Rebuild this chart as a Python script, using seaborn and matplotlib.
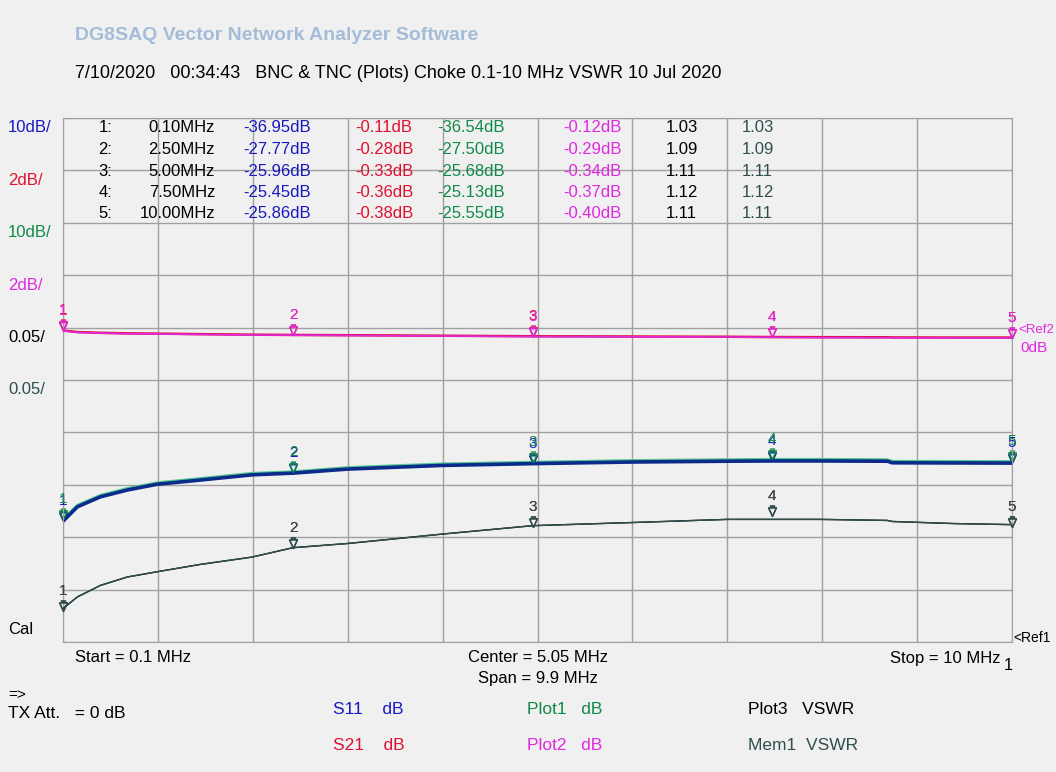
import numpy as np
import matplotlib
matplotlib.use('Agg')
import matplotlib.pyplot as plt
from matplotlib.path import Path
import seaborn as sns

W, H = 1056, 772

# sweep points (MHz) and the trace values there
freq_mhz = [0.1, 0.25, 0.49, 0.77, 1.08, 1.53, 2.07, 2.5, 3.07, 4.06,
            5.0, 6.04, 7.03, 7.5, 8.0, 8.7, 8.75, 9.4, 10.0]
s11_db = [-36.95, -34.2, -32.3, -31.0, -29.9, -29.1, -28.1, -27.77, -27.0, -26.3,
          -25.96, -25.65, -25.5, -25.45, -25.45, -25.5, -25.8, -25.83, -25.86]
plot1_db = [-36.54, -33.9, -32.0, -30.7, -29.6, -28.8, -27.8, -27.50, -26.7, -26.0,
            -25.68, -25.35, -25.2, -25.13, -25.13, -25.2, -25.5, -25.52, -25.55]
s21_db = [-0.11, -0.17, -0.20, -0.22, -0.23, -0.25, -0.27, -0.28, -0.29, -0.31,
          -0.33, -0.34, -0.35, -0.36, -0.365, -0.37, -0.375, -0.38, -0.38]
plot2_db = [-0.12, -0.18, -0.21, -0.23, -0.24, -0.26, -0.28, -0.29, -0.30, -0.32,
            -0.34, -0.35, -0.36, -0.37, -0.38, -0.385, -0.39, -0.395, -0.40]
plot3_vswr = [1.032, 1.043, 1.054, 1.062, 1.067, 1.074, 1.081, 1.090, 1.094, 1.103,
              1.111, 1.114, 1.117, 1.117, 1.117, 1.116, 1.115, 1.113, 1.112]
mem1_vswr = [1.032, 1.043, 1.054, 1.062, 1.067, 1.074, 1.081, 1.090, 1.094, 1.103,
             1.111, 1.114, 1.117, 1.117, 1.117, 1.116, 1.115, 1.113, 1.112]

# marker table
marker_freq = [0.1, 2.5, 5.0, 7.5, 10.0]
marker_s11 = [-36.95, -27.77, -25.96, -25.45, -25.86]
marker_s21 = [-0.11, -0.28, -0.33, -0.36, -0.38]
marker_plot1 = [-36.54, -27.50, -25.68, -25.13, -25.55]
marker_plot2 = [-0.12, -0.29, -0.34, -0.37, -0.40]
marker_plot3 = [1.03, 1.09, 1.11, 1.12, 1.11]
marker_mem1 = [1.03, 1.09, 1.11, 1.12, 1.11]

BLUE_TXT = '#1818C0'
BLUE_TR = '#0A2A8C'
RED = '#E01030'
GREEN = '#108A48'
GREEN_TR = '#50C890'
MAGENTA = '#E028E0'
SLATE = '#2F4F4F'
BG = '#F0F0F0'

plt.rcParams['font.family'] = ['Liberation Sans', 'DejaVu Sans']

fig = plt.figure(figsize=(W / 100, H / 100), dpi=100, facecolor=BG)
ax = fig.add_axes([63 / W, 1 - 642 / H, 949 / W, 524 / H])
ax.set_facecolor(BG)

# 10 dB/div axis, ref 0 dB four divisions down from the top
ax.set_xlim(0.1, 10)
ax.set_ylim(-60, 40)
ax.set_xticks(np.linspace(0.1, 10, 11))
ax.set_yticks(np.arange(-60, 41, 10))
ax.tick_params(length=0, labelbottom=False, labelleft=False)
ax.grid(True, color='#A0A0A0', lw=1)
ax.set_axisbelow(True)
for sp in ax.spines.values():
    sp.set_color('#A0A0A0')

ax2 = ax.twinx()   # 2 dB/div
ax2.set_ylim(-12, 8)
ax3 = ax.twinx()   # VSWR 0.05/div, ref 1 at the bottom
ax3.set_ylim(1.0, 1.5)
for a in (ax2, ax3):
    a.set_yticks([])
    for sp in a.spines.values():
        sp.set_visible(False)

sns.lineplot(x=freq_mhz, y=plot1_db, ax=ax, color=GREEN_TR, lw=2.0)
sns.lineplot(x=freq_mhz, y=s11_db, ax=ax, color=BLUE_TR, lw=2.6)
sns.lineplot(x=freq_mhz, y=s21_db, ax=ax2, color=RED, lw=1.8)
sns.lineplot(x=freq_mhz, y=plot2_db, ax=ax2, color=MAGENTA, lw=1.2)
sns.lineplot(x=freq_mhz, y=plot3_vswr, ax=ax3, color='black', lw=1.0)
sns.lineplot(x=freq_mhz, y=mem1_vswr, ax=ax3, color=SLATE, lw=1.0)

# marker glyph: open triangle with its tip on the trace and a bar above
tri = Path([(-0.45, 1.0), (0.45, 1.0), (0.0, 0.0), (-0.45, 1.0), (-0.3, 1.2), (0.3, 1.2)],
           [Path.MOVETO, Path.LINETO, Path.LINETO, Path.LINETO, Path.MOVETO, Path.LINETO])


def draw_markers(a, vals, color, label_color, dy=20):
    a.plot(marker_freq, vals, ls='none', marker=tri, ms=15, mfc='none',
           mec=color, mew=1.0, clip_on=False)
    for i, (f, v) in enumerate(zip(marker_freq, vals)):
        a.annotate(str(i + 1), (f, v), xytext=(0, dy), textcoords='offset pixels',
                   ha='center', va='center', fontsize=11, color=label_color,
                   annotation_clip=False)


draw_markers(ax2, marker_s21, RED, RED)
draw_markers(ax2, marker_plot2, MAGENTA, MAGENTA)
draw_markers(ax, marker_s11, BLUE_TR, BLUE_TXT)
draw_markers(ax, marker_plot1, GREEN, GREEN)
draw_markers(ax3, marker_plot3, '#303030', '#303030')
draw_markers(ax3, marker_mem1, SLATE, '#404848')


def put(x, y, s, color='black', size=11.5, ha='left', **kw):
    fig.text(x / W, 1 - y / H, s, color=color, fontsize=size, ha=ha, va='center', **kw)


# header
put(75, 36, 'DG8SAQ Vector Network Analyzer Software', color='#A4BCD8',
    size=14, weight='bold')
put(75, 73, '7/10/2020   00:34:43   BNC & TNC (Plots) Choke 0.1-10 MHz VSWR 10 Jul 2020',
    size=13)

# scale labels on the left
scale_labels = ['10dB/', '2dB/', '10dB/', '2dB/', '0.05/', '0.05/']
scale_colors = [BLUE_TXT, RED, GREEN, MAGENTA, 'black', SLATE]
for i, (s, c) in enumerate(zip(scale_labels, scale_colors)):
    put(8, 128 + i * 52.4, s, color=c, size=12)
put(8, 629, 'Cal', size=12)

# marker readout table
for i in range(5):
    y = 128 + i * 21.5
    put(112, y, f'{i + 1}:', ha='right', size=12)
    put(215, y, f'{marker_freq[i]:.2f}MHz', ha='right', size=12)
    put(243, y, f'{marker_s11[i]:.2f}dB', color=BLUE_TXT, size=12)
    put(355, y, f'{marker_s21[i]:.2f}dB', color=RED, size=12)
    put(437, y, f'{marker_plot1[i]:.2f}dB', color=GREEN, size=12)
    put(622, y, f'{marker_plot2[i]:.2f}dB', color=MAGENTA, ha='right', size=12)
    put(666, y, f'{marker_plot3[i]:.2f}', size=12)
    put(742, y, f'{marker_mem1[i]:.2f}', color=SLATE, size=12)

# reference marks on the right edge
put(1018, 330, '<Ref2', color=MAGENTA, size=9.5)
put(1020, 348, '0dB', color=MAGENTA, size=11)
put(1013, 638, '<Ref1', size=10)

# sweep info
put(75, 658, 'Start = 0.1 MHz', size=12)
put(538, 658, 'Center = 5.05 MHz', size=12, ha='center')
put(538, 678, 'Span = 9.9 MHz', size=12, ha='center')
put(1000, 658, 'Stop = 10 MHz', size=12, ha='right')
put(1004, 666, '1', size=12)

# trace legend
put(8, 695, '=>', size=11)
put(8, 713, 'TX Att.   = 0 dB', size=12.5)
put(333, 710, 'S11    dB', color=BLUE_TXT, size=12.5)
put(333, 745, 'S21    dB', color=RED, size=12.5)
put(527, 710, 'Plot1   dB', color=GREEN, size=12.5)
put(527, 745, 'Plot2   dB', color=MAGENTA, size=12.5)
put(748, 710, 'Plot3   VSWR', size=12.5)
put(748, 745, 'Mem1  VSWR', color=SLATE, size=12.5)

fig.savefig('out.png', dpi=100, facecolor=BG)
